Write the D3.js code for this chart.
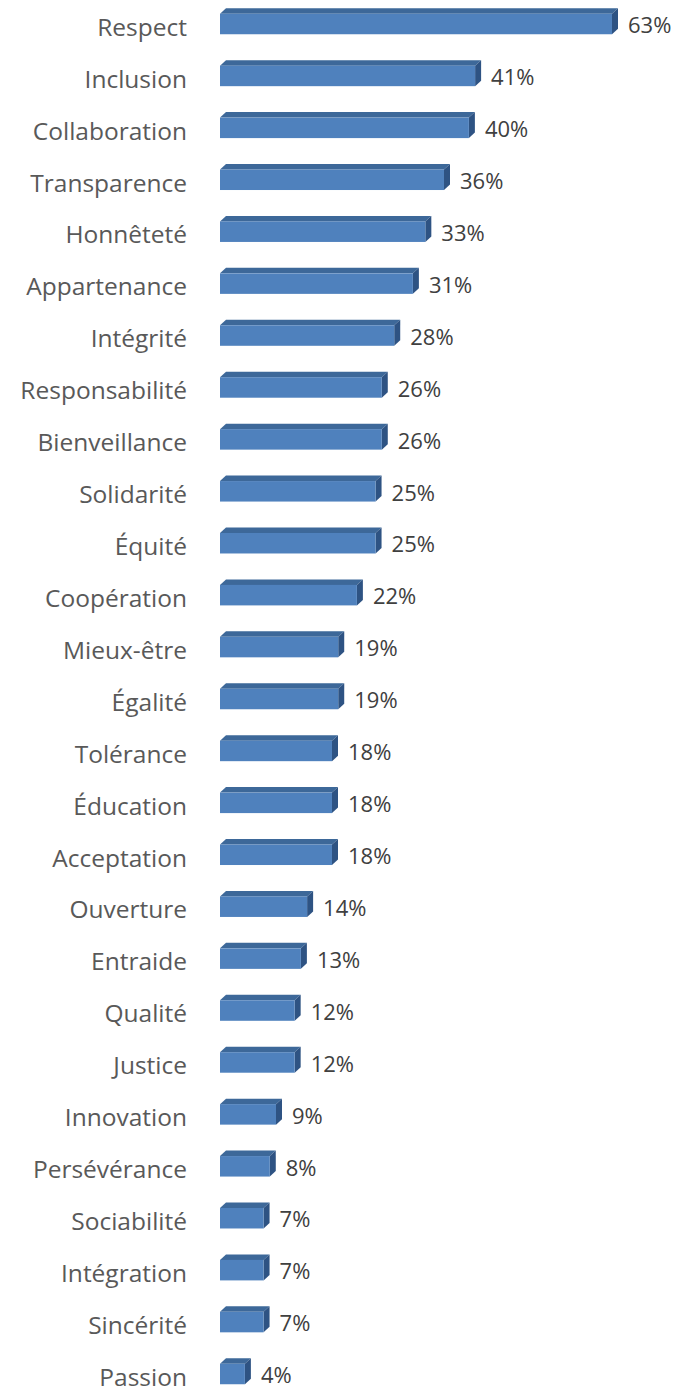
<!DOCTYPE html>
<html><head><meta charset="utf-8">
<script src="https://cdn.jsdelivr.net/npm/d3@7"></script>
<style>html,body{margin:0;padding:0;background:#fff}</style>
</head><body>
<svg id="chart" width="675" height="1393"></svg>
<script>
const categories = ["Respect","Inclusion","Collaboration","Transparence","Honnêteté","Appartenance","Intégrité","Responsabilité","Bienveillance","Solidarité","Équité","Coopération","Mieux-être","Égalité","Tolérance","Éducation","Acceptation","Ouverture","Entraide","Qualité","Justice","Innovation","Persévérance","Sociabilité","Intégration","Sincérité","Passion"];
const values = [63,41,40,36,33,31,28,26,26,25,25,22,19,19,18,18,18,14,13,12,12,9,8,7,7,7,4];

const svg = d3.select("#chart");
const x = d3.scaleLinear().domain([0, 63]).range([220, 612]);
const y = d3.scalePoint().domain(categories).range([24, 1374]);
const h = 20.5, dx = 6, dy = 5.5;

const g = svg.append("g");
const rows = g.selectAll("g.row").data(categories).join("g").attr("class","row");

rows.each(function(c, i){
  const sel = d3.select(this);
  const x0 = x(0), x1 = x(values[i]);
  const yt = y(c) - h/2, yb = y(c) + h/2;
  sel.append("path")
    .attr("d", `M${x0},${yt} L${x0+dx},${yt-dy} L${x1+dx},${yt-dy} L${x1},${yt} Z`)
    .attr("fill", "#3D6899");
  sel.append("path")
    .attr("d", `M${x1},${yt} L${x1+dx},${yt-dy} L${x1+dx},${yb-dy} L${x1},${yb} Z`)
    .attr("fill", "#2E5383");
  sel.append("rect")
    .attr("x", x0).attr("y", yt).attr("width", x1 - x0).attr("height", h)
    .attr("fill", "#4F81BD");
  sel.append("text")
    .attr("x", x1 + 16).attr("y", yb - 1)
    .attr("font-family", "Open Sans").attr("font-size", 22)
    .attr("fill", "#404040")
    .text(values[i] + "%");
  sel.append("text")
    .attr("x", 187).attr("y", yb + 1.5)
    .attr("text-anchor", "end")
    .attr("font-family", "Open Sans").attr("font-size", 24.5)
    .attr("fill", "#595959")
    .text(c);
});
</script>
</body></html>
